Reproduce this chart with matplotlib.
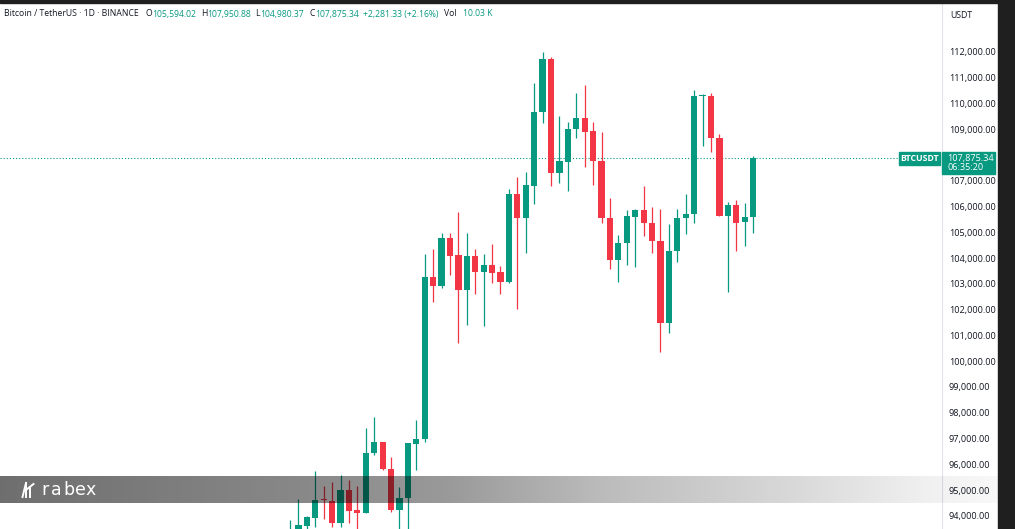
import numpy as np
import matplotlib.pyplot as plt
from matplotlib.patches import Rectangle
from matplotlib.lines import Line2D
from matplotlib.ticker import FuncFormatter

# canvas size in pixels
W, H = 1015, 529

# daily BTC/USDT candles
opens = [93300, 93350, 93609, 93931, 94640, 94578, 93713, 95005, 94230, 94125,
         96428, 96854, 95819, 94230, 94683, 96777, 96970, 103252, 102927, 104788,
         104117, 102760, 104078, 103470, 103729, 103470, 103082, 106471, 105563, 106804,
         109650, 111717, 107308, 107735, 108991, 109441, 108937, 107762, 105571, 103923,
         104571, 105602, 105862, 105369, 104671, 101492, 104272, 105540, 105695, 110294,
         110294, 108642, 105641, 106056, 105385, 105594.02]
highs = [93840, 94656, 93990, 95753, 95160, 95327, 95587, 95393, 95160, 97397,
         97847, 96870, 96273, 95110, 96830, 97719, 104144, 104350, 104958, 104958,
         105796, 104958, 104338, 104156, 104544, 103702, 106665, 107130, 107324, 110798,
         111977, 111806, 109507, 109286, 110410, 110709, 109286, 108898, 106316, 104893,
         105862, 105889, 106792, 105990, 105889, 105307, 105889, 106482, 110515, 110360,
         110387, 108809, 106184, 106250, 106122, 107950.88]
lows = [92900, 93250, 93450, 93582, 93881, 93582, 93558, 93713, 93450, 94101,
        96362, 95780, 94164, 93300, 93450, 95780, 96878, 102306, 102826, 103342,
        100693, 101403, 102593, 101364, 103043, 102593, 103050, 102012, 104183, 106095,
        109224, 106804, 106897, 106610, 108665, 107541, 106812, 105346, 103566, 103058,
        103729, 103663, 104865, 104183, 100368, 101081, 103857, 104931, 105346, 108344,
        108123, 105641, 102671, 104284, 104478, 104980.37]
closes = [93450, 93648, 93970, 94617, 94600, 93713, 95005, 94203, 94101, 96451,
          96854, 95808, 94230, 94683, 96816, 96982, 103252, 102927, 104788, 104090,
          102760, 104078, 103470, 103729, 103431, 103082, 106471, 105563, 106831, 109650,
          111717, 107308, 107774, 108991, 109441, 108898, 107762, 105571, 103923, 104571,
          105629, 105862, 105369, 104671, 101492, 104272, 105563, 105707, 110294, 110294,
          108642, 105641, 106056, 105369, 105579, 107875.34]

last_price = 107875.34
countdown = "06:35:20"
price_ticks = list(range(94000, 112001, 1000))
hidden_tick = 108000  # sits under the last-price label

# header pieces: text, wanted x, colour, minimum gap to previous piece
header_parts = [
    ("Bitcoin / TetherUS \u00b7 1D \u00b7 BINANCE", 4, "dark", 0),
    ("O", 145.5, "dark", 4), ("105,594.02", 150.5, "green", 0.5),
    ("H", 199, "dark", 4), ("107,950.88", 205, "green", 0.5),
    ("L", 254, "dark", 4), ("104,980.37", 258.5, "green", 0.5),
    ("C", 309, "dark", 4), ("107,875.34", 314, "green", 0.5),
    ("+2,281.33 (+2.16%)", 362, "green", 4),
    ("Vol", 444, "dark", 4), ("10.03 K", 463, "green", 0.5),
]

GREEN = "#089981"
RED = "#F23645"
DARK = "#131722"
FONT = "Open Sans"


def fx(x):
    return x / W


def fy(y):
    return 1 - y / H


fig = plt.figure(figsize=(W / 100, H / 100), dpi=100)
fig.patch.set_facecolor("white")

ax_right = 942
ax = fig.add_axes([0, 0, fx(ax_right), 1])
ax.set_facecolor("white")

idx = np.arange(len(opens))
x0, step = 290, 8.42
ax.set_xlim((0 - x0) / step, (ax_right - x0) / step)
ax.set_ylim(112000 - (H - 51.7) * 38.775, 112000 + 51.7 * 38.775)

for i in idx:
    o, h, l, c = opens[i], highs[i], lows[i], closes[i]
    col = GREEN if c >= o else RED
    ax.vlines(i, l, h, color=col, lw=0.9, zorder=2)
    body = max(abs(c - o), 35)
    ax.bar(i, body, bottom=min(o, c), width=0.74, color=col, lw=0, zorder=3)

ax.axhline(last_price, color=GREEN, lw=0.8, ls=(0, (1, 1.8)), zorder=1)

# price scale
ax.yaxis.tick_right()
ax.set_yticks(price_ticks)
ax.yaxis.set_major_formatter(
    FuncFormatter(lambda v, p: "" if v == hidden_tick else f"{v:,.2f}"))
ax.tick_params(axis="y", length=0, pad=5, labelsize=6.6, labelcolor=DARK)
for lab in ax.get_yticklabels():
    lab.set_fontfamily(FONT)
ax.set_xticks([])
for s in ["top", "left", "bottom"]:
    ax.spines[s].set_visible(False)
ax.spines["right"].set_color("#e0e3eb")
ax.spines["right"].set_linewidth(0.8)

# last price labels
ybox = 151.7
fig.add_artist(Rectangle((fx(899), fy(165.2)), fx(41), (165.2 - ybox) / H,
                         transform=fig.transFigure, color=GREEN, zorder=10))
fig.text(fx(919.5), fy(158.4), "BTCUSDT", color="white", fontsize=6.3,
         fontweight="bold", fontfamily=FONT, ha="center", va="center", zorder=11)
fig.add_artist(Rectangle((fx(942), fy(173.5)), fx(53), (173.5 - ybox) / H,
                         transform=fig.transFigure, color=GREEN, zorder=10))
fig.text(fx(947), fy(158.4), f"{last_price:,.2f}", color="white", fontsize=6.6,
         fontfamily=FONT, ha="left", va="center", zorder=11)
fig.text(fx(947), fy(168), countdown, color="white", fontsize=6.6,
         fontfamily=FONT, ha="left", va="center", zorder=11)

fig.text(fx(950), fy(16), "USDT", color=DARK, fontsize=6.3, fontfamily=FONT,
         ha="left", va="center")

# header legend, laid out left to right without collisions
fig.canvas.draw()
renderer = fig.canvas.get_renderer()
end = 0
for txt, xp, c, gap in header_parts:
    start = max(xp, end + gap)
    t = fig.text(fx(start), fy(14), txt, color=GREEN if c == "green" else DARK,
                 fontsize=6.2, fontfamily=FONT, ha="left", va="center")
    end = t.get_window_extent(renderer=renderer).x1

# watermark banner with gradient
band = fig.add_axes([0, fy(502.7), fx(998), (502.7 - 475.7) / H], zorder=20)
band.set_axis_off()
xs = np.linspace(0, 998, 500)
alpha = np.interp(xs, [0, 300, 450, 600, 800, 930, 998],
                  [0.57, 0.47, 0.40, 0.27, 0.15, 0.06, 0.03])
img = np.zeros((1, len(xs), 4))
img[0, :, 3] = alpha
band.imshow(img, aspect="auto", extent=(0, 1, 0, 1), interpolation="bilinear")
band.set_xlim(0, 1)
band.set_ylim(0, 1)

# rabex logo
for ch, xp in zip("rabex", [45, 56, 68.5, 80, 91]):
    fig.text(fx(xp), fy(490), ch, color="white", fontsize=12.5,
             fontfamily="DejaVu Sans", ha="center", va="center", zorder=30)
logo = [((22.5, 497), (26, 483)), ((26, 483), (26, 497)), ((26, 490), (33.5, 484)),
        ((30, 487.5), (30, 497))]
for (xa, ya), (xb, yb) in logo:
    fig.add_artist(Line2D([fx(xa), fx(xb)], [fy(ya), fy(yb)], transform=fig.transFigure,
                          color="white", lw=1.4, zorder=30))

# dark frame edges of the screenshot
fig.add_artist(Rectangle((fx(998), 0), fx(W - 998), 1, transform=fig.transFigure,
                         color="#1f1f1f", zorder=40))
fig.add_artist(Rectangle((0, fy(3)), 1, 3 / H, transform=fig.transFigure,
                         color="#1f1f1f", zorder=40))

fig.savefig("out.png", dpi=100)
